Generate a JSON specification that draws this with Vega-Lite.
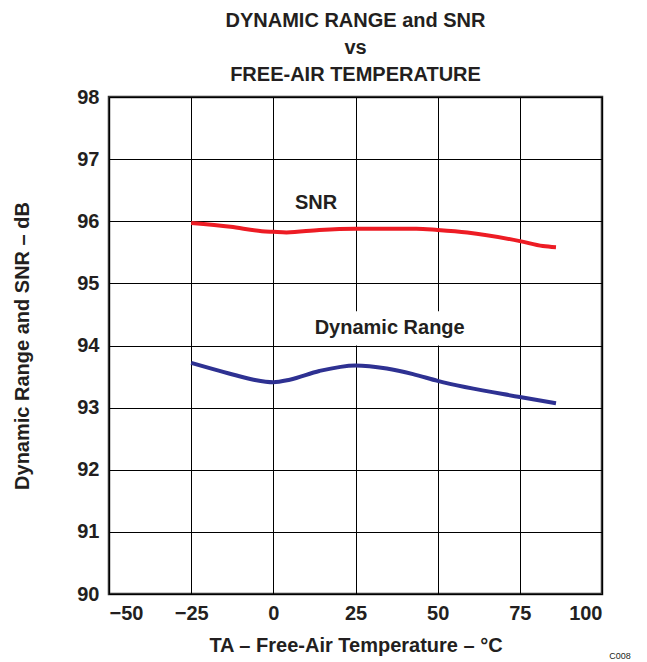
{
  "$schema": "https://vega.github.io/schema/vega-lite/v6.json",
  "width": 493,
  "height": 497,
  "autosize": {"type": "none"},
  "padding": {"left": 109, "top": 97, "right": 45, "bottom": 68},
  "background": "white",
  "title": {
    "text": ["DYNAMIC RANGE and SNR", "vs", "FREE-AIR TEMPERATURE"],
    "font": "Liberation Sans",
    "fontSize": 20,
    "fontWeight": "bold",
    "color": "#231f20",
    "lineHeight": 27,
    "anchor": "middle",
    "offset": 2
  },
  "config": {
    "view": {"stroke": "#333333", "strokeWidth": 2.5},
    "axis": {
      "labelFont": "Liberation Sans",
      "labelFontSize": 20,
      "labelFontWeight": "bold",
      "labelColor": "#231f20",
      "titleFont": "Liberation Sans",
      "titleFontSize": 20,
      "titleFontWeight": "bold",
      "titleColor": "#231f20",
      "grid": true,
      "gridColor": "#000000",
      "gridOpacity": 1,
      "gridWidth": 1,
      "domain": false,
      "ticks": false
    }
  },
  "datasets": {
    "curves": [
      {"series": "SNR", "t": -25, "v": 95.97},
      {"series": "SNR", "t": -13, "v": 95.91},
      {"series": "SNR", "t": -3.5, "v": 95.84},
      {"series": "SNR", "t": 0, "v": 95.83},
      {"series": "SNR", "t": 4, "v": 95.82},
      {"series": "SNR", "t": 14, "v": 95.86},
      {"series": "SNR", "t": 25, "v": 95.88},
      {"series": "SNR", "t": 43.5, "v": 95.88},
      {"series": "SNR", "t": 50, "v": 95.86},
      {"series": "SNR", "t": 59, "v": 95.82},
      {"series": "SNR", "t": 75, "v": 95.68},
      {"series": "SNR", "t": 82, "v": 95.6},
      {"series": "SNR", "t": 86, "v": 95.58},
      {"series": "Dynamic Range", "t": -25, "v": 93.72},
      {"series": "Dynamic Range", "t": -13.5, "v": 93.55},
      {"series": "Dynamic Range", "t": -6, "v": 93.45},
      {"series": "Dynamic Range", "t": 0, "v": 93.41},
      {"series": "Dynamic Range", "t": 5, "v": 93.45},
      {"series": "Dynamic Range", "t": 14, "v": 93.59},
      {"series": "Dynamic Range", "t": 25, "v": 93.68},
      {"series": "Dynamic Range", "t": 34.5, "v": 93.63},
      {"series": "Dynamic Range", "t": 42.5, "v": 93.54},
      {"series": "Dynamic Range", "t": 50, "v": 93.43},
      {"series": "Dynamic Range", "t": 75, "v": 93.17},
      {"series": "Dynamic Range", "t": 86, "v": 93.07}
    ],
    "labels": [
      {"label": "SNR", "t": 13, "v": 96.3},
      {"label": "Dynamic Range", "t": 35.4, "v": 94.28}
    ],
    "mask": [
      {"t": 7, "t2": 63.5, "v": 94.0, "v2": 94.55}
    ],
    "note": [
      {"label": "C008", "t": 105.5, "v": 89.06}
    ]
  },
  "layer": [
    {
      "data": {"name": "mask"},
      "mark": {"type": "rect", "color": "white"},
      "encoding": {
        "x": {"field": "t", "type": "quantitative", "scale": {"domain": [-50, 100], "nice": false}, "axis": {"values": [-50, -25, 0, 25, 50, 75, 100], "title": "TA – Free-Air Temperature – °C", "labelPadding": 9, "titlePadding": 12}},
        "x2": {"field": "t2"},
        "y": {"field": "v", "type": "quantitative", "scale": {"domain": [90, 98], "nice": false}, "axis": {"values": [90, 91, 92, 93, 94, 95, 96, 97, 98], "format": "d", "title": "Dynamic Range and SNR – dB", "labelPadding": 10, "titlePadding": 44}},
        "y2": {"field": "v2"}
      }
    },
    {
      "data": {"name": "curves"},
      "mark": {"type": "line", "strokeWidth": 4, "interpolate": "monotone"},
      "encoding": {
        "x": {"field": "t", "type": "quantitative"},
        "y": {"field": "v", "type": "quantitative"},
        "detail": {"field": "series"},
        "color": {"field": "series", "type": "nominal", "scale": {"domain": ["SNR", "Dynamic Range"], "range": ["#ed1c24", "#2e3192"]}, "legend": null}
      }
    },
    {
      "data": {"name": "labels"},
      "mark": {"type": "text", "font": "Liberation Sans", "fontSize": 20, "fontWeight": "bold", "color": "#231f20", "baseline": "middle", "align": "center"},
      "encoding": {
        "x": {"field": "t", "type": "quantitative"},
        "y": {"field": "v", "type": "quantitative"},
        "text": {"field": "label"}
      }
    },
    {
      "data": {"name": "note"},
      "mark": {"type": "text", "font": "Liberation Sans", "fontSize": 9, "color": "#231f20", "baseline": "top", "align": "center", "clip": false},
      "encoding": {
        "x": {"field": "t", "type": "quantitative"},
        "y": {"field": "v", "type": "quantitative"},
        "text": {"field": "label"}
      }
    }
  ]
}
